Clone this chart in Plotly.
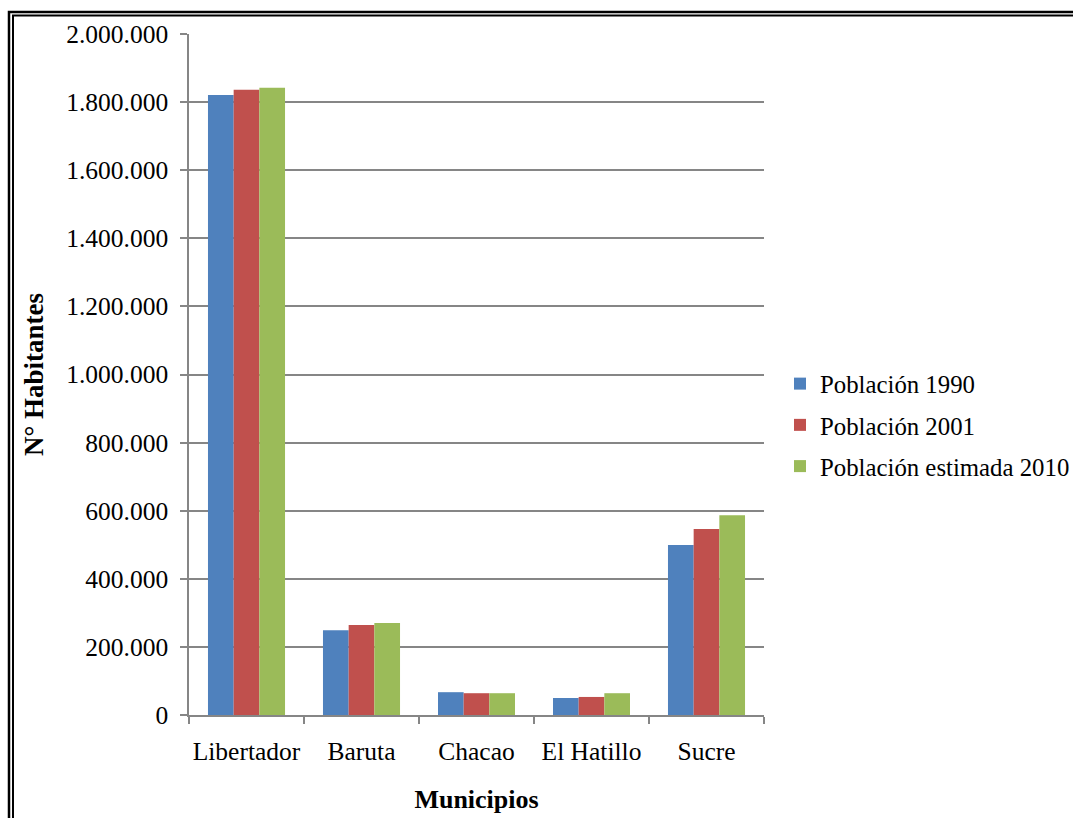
import plotly.graph_objects as go

# Population by municipality (Caracas metropolitan area)
municipios = ["Libertador", "Baruta", "Chacao", "El Hatillo", "Sucre"]
poblacion_1990 = [1821000, 249000, 67000, 50000, 499000]
poblacion_2001 = [1836000, 264000, 64000, 53000, 546000]
poblacion_2010 = [1842000, 270000, 64000, 64000, 587000]

series_names = ["Población 1990", "Población 2001", "Población estimada 2010"]
series_colors = ["#4F81BD", "#C0504D", "#9BBB59"]
y_tick_values = [0, 200000, 400000, 600000, 800000, 1000000, 1200000,
                 1400000, 1600000, 1800000, 2000000]

W, H = 1073, 818
ML, MR, MT, MB = 189, 309, 34, 103
PW, PH = W - ML - MR, H - MT - MB

FONT = "Liberation Serif, Times New Roman, serif"
GRID = "#868686"

fig = go.Figure()
for name, color, values in zip(series_names, series_colors,
                               [poblacion_1990, poblacion_2001, poblacion_2010]):
    fig.add_trace(go.Bar(
        x=municipios, y=values, name=name, legendgroup=name,
        marker=dict(color=color, line=dict(width=0)),
    ))


def px_x(p):
    return (p - ML) / PW


def px_y(p):
    return (H - MB - p) / PH


# double frame around the chart
frame = []
for x0, y0, w in [(9, 12, 2.5), (13, 15.5, 2)]:
    frame.append(dict(type="rect", xref="paper", yref="paper",
                      x0=px_x(x0), x1=px_x(W + 20),
                      y0=px_y(H + 20), y1=px_y(y0),
                      line=dict(color="black", width=w),
                      fillcolor="rgba(0,0,0,0)"))

fig.update_layout(
    width=W, height=H,
    margin=dict(l=ML, r=MR, t=MT, b=MB, autoexpand=False),
    paper_bgcolor="white", plot_bgcolor="white",
    separators=",.",
    barmode="group", bargap=0.33, bargroupgap=0,
    font=dict(family=FONT, size=25.5, color="black"),
    shapes=frame,
    legend=dict(
        x=px_x(780), y=px_y(361), xanchor="left", yanchor="top",
        font=dict(family=FONT, size=24.8, color="black"),
        traceorder="grouped", tracegroupgap=6,
        bgcolor="rgba(0,0,0,0)",
    ),
    xaxis=dict(
        showline=True, linecolor=GRID, linewidth=1.5,
        ticks="outside", tickson="boundaries", ticklen=7,
        tickcolor=GRID, tickwidth=1.5, tickangle=0,
        ticklabelstandoff=13,
        title=dict(text="<b>Municipios</b>", standoff=24,
                   font=dict(family=FONT, size=26)),
        showgrid=False,
    ),
    yaxis=dict(
        range=[0, 2000000], tickvals=y_tick_values, tickformat=",d",
        showline=True, linecolor=GRID, linewidth=1.5,
        ticks="outside", ticklen=7, tickcolor=GRID, tickwidth=1.5,
        ticklabelstandoff=7,
        showgrid=True, gridcolor=GRID, gridwidth=1.5,
        zeroline=False,
        title=dict(text="<b>N° Habitantes</b>", standoff=15,
                   font=dict(family=FONT, size=27)),
    ),
)

fig.write_html("out.html")
